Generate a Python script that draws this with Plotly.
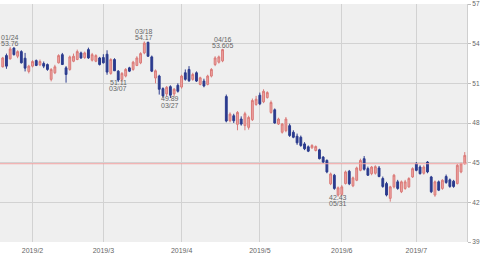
import pandas as pd
import plotly.graph_objects as go

# ---- data -----------------------------------------------------------------
holidays = ["2019-02-18", "2019-04-19", "2019-05-27", "2019-07-04"]
dates = [d.strftime("%Y-%m-%d") for d in pd.bdate_range("2019-01-22", "2019-07-19")
         if d.strftime("%Y-%m-%d") not in holidays]

open_ = [52.25, 53.1, 52.85, 53.67, 53.05, 53.4, 52.9, 51.9, 52.3, 52.72,
         52.4, 52.5, 52.42, 51.3, 51.8, 52.55, 53.17, 52.17, 52.05, 52.67,
         52.8, 53.3, 52.95, 53.55, 52.75, 52.67, 52.92, 52.95, 53.2, 51.75,
         52.8, 51.92, 51.3, 51.55, 52.17, 52.05, 52.35, 52.55, 53.3, 54.1,
         53.0, 51.4, 51.55, 50.6, 50.2, 50.75, 50.2, 50.85, 50.72, 51.8,
         52.05, 51.3, 51.8, 50.92, 51.17, 50.92, 51.55, 52.42, 52.6, 52.7,
         50.0, 48.17, 48.55, 47.9, 48.3, 47.8, 47.67, 48.25, 49.4, 50.1,
         49.6, 49.92, 48.8, 49.0, 47.92, 47.3, 47.42, 47.8, 47.3, 47.0,
         46.92, 46.42, 46.2, 46.12, 45.92, 45.97, 45.42, 45.17, 43.4, 44.05,
         42.55, 42.6, 43.42, 44.35, 43.25, 43.67, 44.42, 45.3, 44.55, 44.17,
         44.2, 44.6, 43.8, 43.42, 42.3, 43.17, 43.55, 42.8, 43.05, 43.17,
         43.92, 44.92, 44.67, 44.2, 45.05, 43.92, 42.55, 43.55, 43.05, 43.95,
         43.7, 43.6, 43.42, 44.3, 44.92]
high = [53.0, 53.25, 53.76, 53.72, 53.5, 53.5, 53.3, 52.4, 52.75, 52.8,
        52.8, 52.65, 52.5, 52.15, 52.4, 53.2, 53.3, 52.3, 53.1, 53.25,
        53.55, 53.4, 53.4, 53.7, 53.3, 53.2, 53.0, 53.2, 53.5, 52.9,
        52.9, 52.0, 51.85, 52.15, 52.25, 52.7, 53.05, 53.35, 54.17, 54.15,
        53.1, 52.05, 51.65, 50.7, 50.8, 50.85, 50.65, 51.0, 51.65, 52.05,
        52.3, 51.8, 51.9, 51.5, 51.35, 51.65, 52.15, 53.05, 53.1, 53.605,
        50.15, 48.8, 48.7, 48.9, 48.5, 48.85, 48.55, 49.85, 50.05, 50.3,
        50.55, 50.4, 49.7, 49.1, 48.4, 48.0, 48.45, 47.95, 47.45, 47.2,
        47.05, 46.55, 46.3, 46.4, 46.3, 46.05, 45.5, 45.25, 44.25, 44.15,
        43.2, 43.3, 44.4, 44.45, 43.95, 44.7, 45.3, 45.5, 44.7, 44.75,
        44.8, 44.75, 43.95, 43.55, 43.25, 44.15, 43.7, 43.65, 43.7, 43.9,
        44.65, 45.05, 44.8, 44.8, 45.12, 44.0, 43.65, 43.65, 43.75, 44.1,
        43.8, 43.7, 44.9, 45.0, 45.8]
low = [52.2, 52.1, 52.8, 53.1, 52.9, 52.5, 51.9, 51.75, 52.2, 52.3,
       52.3, 52.15, 51.95, 51.15, 51.7, 52.5, 52.4, 51.05, 51.95, 52.6,
       52.75, 52.85, 52.85, 52.85, 52.65, 52.6, 52.35, 52.5, 51.65, 51.65,
       51.95, 51.11, 51.12, 51.45, 51.85, 51.95, 52.3, 52.45, 53.2, 53.0,
       51.85, 51.0, 50.15, 49.92, 50.0, 49.89, 50.0, 50.3, 50.6, 51.2,
       51.1, 51.2, 51.1, 50.85, 50.7, 50.85, 51.45, 52.3, 52.5, 52.6,
       48.05, 48.05, 48.0, 47.45, 47.8, 47.45, 47.5, 48.15, 49.3, 49.35,
       49.5, 49.85, 48.7, 47.95, 47.85, 47.2, 47.3, 46.95, 46.85, 46.35,
       46.2, 45.95, 45.8, 46.05, 45.85, 45.25, 44.95, 44.2, 43.3, 42.95,
       42.43, 42.5, 43.35, 43.3, 43.15, 43.6, 44.35, 44.4, 44.0, 44.05,
       44.1, 43.9, 43.1, 42.45, 42.05, 43.05, 42.95, 42.7, 42.95, 43.1,
       43.85, 44.35, 44.1, 44.1, 44.2, 42.7, 42.42, 42.85, 42.95, 43.4,
       43.1, 43.1, 43.35, 44.2, 44.85]
close = [52.92, 52.3, 53.6, 53.17, 53.4, 52.55, 52.15, 52.3, 52.65, 52.35,
         52.65, 52.3, 52.05, 52.05, 52.25, 53.1, 52.42, 51.67, 53.0, 53.05,
         53.4, 52.92, 53.3, 52.92, 53.17, 53.1, 52.42, 52.55, 51.85, 52.8,
         51.95, 51.25, 51.75, 52.05, 51.92, 52.6, 52.92, 53.25, 54.05, 53.05,
         51.92, 51.95, 50.55, 50.05, 50.7, 50.1, 50.55, 50.4, 51.55, 51.3,
         51.2, 51.67, 51.17, 51.42, 50.8, 51.55, 52.05, 52.92, 53.0, 53.55,
         48.15, 48.67, 48.17, 48.8, 47.92, 48.7, 48.42, 49.7, 49.8, 49.45,
         50.4, 50.3, 49.55, 48.0, 48.3, 47.92, 48.3, 47.05, 46.92, 46.5,
         46.3, 46.05, 45.87, 46.3, 46.22, 45.3, 45.05, 44.3, 44.15, 43.05,
         43.1, 43.17, 44.3, 43.4, 43.85, 44.6, 45.17, 44.5, 44.05, 44.67,
         44.7, 43.95, 43.2, 42.55, 43.17, 44.05, 43.05, 43.55, 43.55, 43.8,
         44.55, 44.42, 44.17, 44.67, 44.3, 42.8, 43.55, 42.92, 43.67, 43.5,
         43.2, 43.2, 44.8, 44.92, 45.55]

month_ticks = ["2019-02-01", "2019-03-01", "2019-04-01", "2019-05-01", "2019-06-03", "2019-07-01"]
month_labels = ["2019/2", "2019/3", "2019/4", "2019/5", "2019/6", "2019/7"]

ref_price = 44.92

high_marks_dates = ["2019-01-24", "2019-03-18", "2019-04-16"]
high_marks_text = ["53.76", "54.17", "53.605"]
high_marks_label = ["01/24", "03/18", "04/16"]
low_marks_dates = ["2019-03-07", "2019-03-27", "2019-05-31"]
low_marks_text = ["51.11", "49.89", "42.43"]
low_marks_label = ["03/07", "03/27", "05/31"]

# ---- figure ---------------------------------------------------------------
UP_LINE, UP_FILL = "#da7a78", "#eea4a2"
DN = "#2b3b8e"
TXT = "#666666"
FONT = "Liberation Sans, Arial, sans-serif"

fig = go.Figure()
fig.add_trace(go.Candlestick(
    x=dates, open=open_, high=high, low=low, close=close,
    increasing=dict(line=dict(color=UP_LINE, width=1), fillcolor=UP_FILL),
    decreasing=dict(line=dict(color=DN, width=1), fillcolor=DN),
    whiskerwidth=0, showlegend=False, hoverinfo="skip",
))

fig.add_shape(type="line", xref="paper", x0=0, x1=1, yref="y", y0=ref_price, y1=ref_price,
              line=dict(color="#f2a3a3", width=1), layer="above")

annotations = []
for d, p, lab in zip(high_marks_dates, high_marks_text, high_marks_label):
    yv = float(p)
    annotations.append(dict(x=d, y=yv, text=p, showarrow=False, yanchor="middle",
                            xanchor="center", yshift=3.5, font=dict(size=7, color=TXT, family=FONT)))
    annotations.append(dict(x=d, y=yv, text=lab, showarrow=False, yanchor="middle",
                            xanchor="center", yshift=9.8, font=dict(size=7, color=TXT, family=FONT)))
for d, p, lab in zip(low_marks_dates, low_marks_text, low_marks_label):
    yv = float(p)
    annotations.append(dict(x=d, y=yv, text=p, showarrow=False, yanchor="middle",
                            xanchor="center", yshift=-0.8, font=dict(size=7, color=TXT, family=FONT)))
    annotations.append(dict(x=d, y=yv, text=lab, showarrow=False, yanchor="middle",
                            xanchor="center", yshift=-7.0, font=dict(size=7, color=TXT, family=FONT)))

fig.update_layout(
    width=480, height=254,
    margin=dict(l=0, r=13, t=2, b=12),
    paper_bgcolor="white", plot_bgcolor="#efefef",
    annotations=annotations,
    font=dict(family=FONT, color=TXT),
    xaxis=dict(type="category", range=[-0.73, 124.6], tickvals=month_ticks, ticktext=month_labels,
               showgrid=True, gridcolor="#d2d2d2", gridwidth=1, ticks="", showline=False,
               ticklabelstandoff=3,
               tickfont=dict(size=7, color=TXT), rangeslider=dict(visible=False), fixedrange=True),
    yaxis=dict(side="right", range=[39, 57], tick0=39, dtick=3, ticklabeloverflow="allow",
               showgrid=True, gridcolor="#d2d2d2",
               gridwidth=1, ticks="outside", ticklen=3, tickcolor="#bdbdbd", showline=True,
               linecolor="#cfcfcf", zeroline=False, tickfont=dict(size=6.5, color=TXT), fixedrange=True),
)

fig.write_html("out.html")
